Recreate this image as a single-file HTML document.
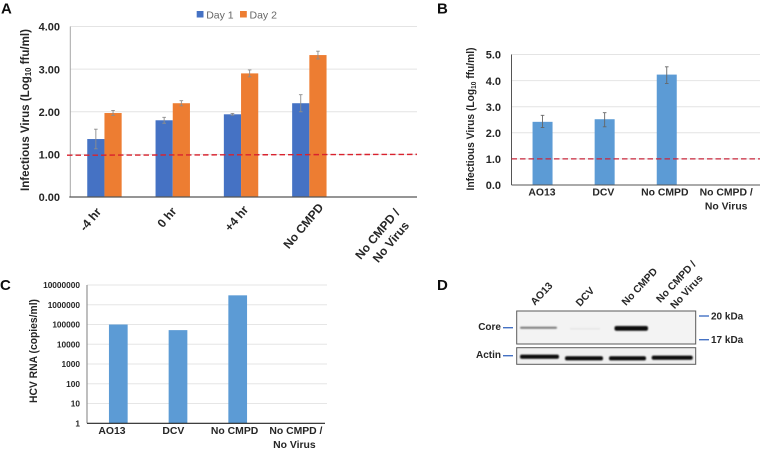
<!DOCTYPE html>
<html>
<head>
<meta charset="utf-8">
<style>
html,body{margin:0;padding:0;background:#fff;}
svg{display:block;}
text{font-family:"Liberation Sans",sans-serif;font-weight:bold;fill:#262626;}
</style>
</head>
<body>
<svg id="fig" xmlns="http://www.w3.org/2000/svg" width="760" height="449" viewBox="0 0 760 449">
  <defs>
    <filter id="b1" x="-20%" y="-200%" width="140%" height="500%"><feGaussianBlur stdDeviation="0.9"/></filter>
    <filter id="b2" x="-20%" y="-200%" width="140%" height="500%"><feGaussianBlur stdDeviation="0.75"/></filter>
    <filter id="soft" x="-5%" y="-5%" width="110%" height="110%"><feGaussianBlur stdDeviation="0.3"/></filter>
  </defs>
  <g id="panels" filter="url(#soft)">
    <text x="1" y="13.5" font-size="15" style="fill:#111">A</text>
    <text x="437" y="13.5" font-size="15" style="fill:#111">B</text>
    <text x="0" y="290" font-size="15" style="fill:#111">C</text>
    <text x="437" y="290" font-size="15" style="fill:#111">D</text>

    <g id="chart-a"></g>
    <g id="chart-b"></g>
    <g id="chart-c"></g>

    <g id="blot">
      <text transform="translate(544 296) rotate(-47)" text-anchor="middle" font-size="10.3">AO13</text>
      <text transform="translate(587.5 299) rotate(-47)" text-anchor="middle" font-size="10.3">DCV</text>
      <text transform="translate(642 289) rotate(-47)" text-anchor="middle" font-size="10.3">No CMPD</text>
      <text transform="translate(678.5 284) rotate(-47)" text-anchor="middle" font-size="10.3">No CMPD /</text>
      <text transform="translate(689 294) rotate(-47)" text-anchor="middle" font-size="10.3">No Virus</text>

      <rect x="516.7" y="311" width="179" height="33" fill="#f3f3f3" stroke="#5a5a5a" stroke-width="1"/>
      <rect x="520" y="326.8" width="37" height="2" rx="1" fill="#777" filter="url(#b1)"/>
      <rect x="570" y="328" width="30" height="1.5" rx="0.7" fill="#e4e4e4" filter="url(#b1)"/>
      <rect x="614.5" y="326" width="33.5" height="4.8" rx="2" fill="#0a0a0a" filter="url(#b2)"/>

      <rect x="516.7" y="347.7" width="179" height="16.6" fill="#f0f0f0" stroke="#5a5a5a" stroke-width="1"/>
      <rect x="520" y="354.6" width="39" height="4.2" rx="1.8" fill="#0c0c0c" filter="url(#b2)"/>
      <rect x="565" y="356.2" width="38" height="4.2" rx="1.8" fill="#0c0c0c" filter="url(#b2)"/>
      <rect x="609" y="356.2" width="37" height="4.2" rx="1.8" fill="#0c0c0c" filter="url(#b2)"/>
      <rect x="651.7" y="355.6" width="41" height="4.2" rx="1.8" fill="#0c0c0c" filter="url(#b2)"/>

      <text x="501" y="330" text-anchor="end" font-size="10">Core</text>
      <rect x="503" y="327" width="10" height="1.4" fill="#4472C4"/>
      <text x="501" y="358" text-anchor="end" font-size="10">Actin</text>
      <rect x="503" y="355" width="10" height="1.4" fill="#4472C4"/>
      <rect x="699" y="315.3" width="10" height="1.4" fill="#4472C4"/>
      <text x="711" y="319.5" font-size="10">20 kDa</text>
      <rect x="699" y="339" width="10" height="1.4" fill="#4472C4"/>
      <text x="711" y="343" font-size="10">17 kDa</text>
    </g>
  </g>
</svg>
<script>
/* Panel A data */
const aCategories = [["-4 hr"], ["0 hr"], ["+4 hr"], ["No CMPD"], ["No CMPD /", "No Virus"]];
const aDay1 = [1.36, 1.80, 1.94, 2.20];
const aDay2 = [1.97, 2.20, 2.90, 3.33];
const aDay1Err = [0.23, 0.07, 0.02, 0.20];
const aDay2Err = [0.06, 0.06, 0.08, 0.09];
const aTicks = ["0.00", "1.00", "2.00", "3.00", "4.00"];
const aLimit = [0.98, 1.0];
const aSeriesNames = ["Day 1", "Day 2"];

/* Panel B data */
const bCategories = [["AO13"], ["DCV"], ["No CMPD"], ["No CMPD /", "No Virus"]];
const bValues = [2.42, 2.52, 4.23];
const bErrUp = [0.25, 0.25, 0.30];
const bErrDown = [0.22, 0.29, 0.34];
const bTicks = ["0.0", "1.0", "2.0", "3.0", "4.0", "5.0"];
const bLimit = [1.0, 1.0];

/* Panel C data */
const cCategories = [["AO13"], ["DCV"], ["No CMPD"], ["No CMPD /", "No Virus"]];
const cValues = [100000, 52000, 3000000];
const cTicks = ["1", "10", "100", "1000", "10000", "100000", "1000000", "10000000"];

const NS = "http://www.w3.org/2000/svg";
function add(parent, tag, attrs, txt) {
  const el = document.createElementNS(NS, tag);
  for (const k in attrs) el.setAttribute(k, attrs[k]);
  if (txt !== undefined) el.textContent = txt;
  parent.appendChild(el);
  return el;
}
function slug(s) {
  return String(s).toLowerCase().replace(/[^a-z0-9.]+/g, "-").replace(/^-|-$/g, "");
}

/* ---------- Panel A ---------- */
(function () {
  const g = document.getElementById("chart-a");
  const x0 = 70.3, band = 68.3, barW = 17.2, right = 417;
  const y = v => 197 - v * (197 - 26.5) / 4;
  const cx = i => x0 + band * (i + 0.5);

  aTicks.forEach(t => {
    const v = parseFloat(t);
    if (v > 0) {
      const line = add(g, "line", { x1: x0, x2: right, y1: y(v), y2: y(v), stroke: "#e4e4e4", "stroke-width": 1 });
      
      
    }
    const lab = add(g, "text", { x: 60, y: y(v) + 4.2, "text-anchor": "end", "font-size": 11 }, t);
    
    
  });

  [[aDay1, aDay1Err, "#4472C4", -1, "day-1"], [aDay2, aDay2Err, "#ED7D31", 0, "day-2"]].forEach(s => {
    s[0].forEach((v, i) => {
      const bx = cx(i) + s[3] * barW;
      const bar = add(g, "rect", { x: bx, y: y(v), width: barW, height: y(0) - y(v), fill: s[2] });
      
      
      const mx = bx + barW / 2, e = s[1][i];
      const err = add(g, "path", {
        d: "M" + (mx - 1.8) + " " + y(v + e) + "H" + (mx + 1.8) + "M" + mx + " " + y(v + e) + "V" + y(v - e) + "M" + (mx - 1.8) + " " + y(v - e) + "H" + (mx + 1.8),
        stroke: "#8c8c8c", "stroke-width": 0.9, fill: "none"
      });
      
      
    });
  });

  const axY = add(g, "line", { x1: x0, x2: x0, y1: y(4), y2: y(0), stroke: "#a6a6a6", "stroke-width": 1 });
  
  
  const axX = add(g, "line", { x1: x0 - 1, x2: right, y1: y(0), y2: y(0), stroke: "#555", "stroke-width": 1.2 });
  
  

  const lim = add(g, "line", { x1: 67, x2: 417, y1: y(aLimit[0]), y2: y(aLimit[1]), stroke: "#d9232e", "stroke-width": 1.4, "stroke-dasharray": "5.5 3" });
  
  

  /* Rotated label layout, relative to each category centre: [dx, baseline y]. */
  const labelLayout = [[[-11, 222]], [[-2.75, 220]], [[-1.5, 221]], [[-2.85, 228.6]], [[2.85, 236.6], [16.35, 244.6]]];
  aCategories.forEach((c, i) => {
    c.forEach((line, j) => {
      const pos = labelLayout[i][j];
      const t = add(g, "text", { transform: "translate(" + (cx(i) + pos[0]) + " " + pos[1] + ") rotate(-50)", "text-anchor": "middle", "font-size": 12 }, line);
      
      
    });
  });

  const title = add(g, "text", { transform: "translate(29 191) rotate(-90)", "font-size": 12, textLength: 162, lengthAdjust: "spacingAndGlyphs" });
  
  
  add(title, "tspan", {}, "Infectious Virus  (Log");
  add(title, "tspan", { "font-size": 8, dy: 2 }, "10");
  add(title, "tspan", { dy: -2 }, "  ffu/ml)");

  const legendX = [196.7, 240];
  const legendColors = ["#4472C4", "#ED7D31"];
  aSeriesNames.forEach((n, i) => {
    const sw = add(g, "rect", { x: legendX[i], y: 11, width: 6.8, height: 6.5, fill: legendColors[i] });
    
    
    const t = add(g, "text", { x: legendX[i] + 9.5, y: 18.5, "font-size": 10.5, style: "font-weight:normal;fill:#666" }, n);
    
    
  });
})();

/* ---------- Panel B ---------- */
(function () {
  const g = document.getElementById("chart-b");
  const x0 = 511.5, band = 62.1, barW = 20, right = 760;
  const y = v => 185 - v * (185 - 54.5) / 5;
  const cx = i => x0 + band * (i + 0.5);
  const labelX = i => 542 + 61.4 * i;

  bTicks.forEach(t => {
    const v = parseFloat(t);
    if (v > 0) {
      const line = add(g, "line", { x1: x0, x2: right, y1: y(v), y2: y(v), stroke: "#e4e4e4", "stroke-width": 1 });
      
      
    }
    const lab = add(g, "text", { x: 501, y: y(v) + 4.2, "text-anchor": "end", "font-size": 11 }, t);
    
    
  });

  bValues.forEach((v, i) => {
    const bx = cx(i) - barW / 2;
    const bar = add(g, "rect", { x: bx, y: y(v), width: barW, height: y(0) - y(v), fill: "#5B9BD5" });
    
    
    const mx = cx(i), hi = y(v + bErrUp[i]), lo = y(v - bErrDown[i]);
    const err = add(g, "path", {
      d: "M" + (mx - 1.8) + " " + hi + "H" + (mx + 1.8) + "M" + mx + " " + hi + "V" + lo + "M" + (mx - 1.8) + " " + lo + "H" + (mx + 1.8),
      stroke: "#666", "stroke-width": 0.9, fill: "none"
    });
    
    
  });

  const axY = add(g, "line", { x1: x0, x2: x0, y1: y(5), y2: y(0), stroke: "#555", "stroke-width": 1 });
  
  
  const axX = add(g, "line", { x1: x0, x2: right, y1: y(0), y2: y(0), stroke: "#555", "stroke-width": 1 });
  
  

  const lim = add(g, "line", { x1: x0, x2: right, y1: y(bLimit[0]), y2: y(bLimit[1]), stroke: "#c9283a", "stroke-width": 1.3, "stroke-dasharray": "5.5 3" });
  
  

  bCategories.forEach((c, i) => {
    c.forEach((line, j) => {
      const t = add(g, "text", { x: labelX(i), y: 195.5 + j * 13.8, "text-anchor": "middle", "font-size": 10.4 }, line);
      
      
    });
  });

  const title = add(g, "text", { transform: "translate(474 190.5) rotate(-90)", "font-size": 11, textLength: 143, lengthAdjust: "spacingAndGlyphs" });
  
  
  add(title, "tspan", {}, "Infectious Virus (Log");
  add(title, "tspan", { "font-size": 7, dy: 2 }, "10");
  add(title, "tspan", { dy: -2 }, " ffu/ml)");
})();

/* ---------- Panel C ---------- */
(function () {
  const g = document.getElementById("chart-c");
  const x0 = 87, firstCenter = 118.3, band = 59.7, barW = 18.7, right = 327;
  const y = v => 423.3 - Math.log10(v) * (423.3 - 285) / 7;
  const cx = i => firstCenter + band * i;
  const labelX = i => 112 + 61.3 * i;

  cTicks.forEach(t => {
    const v = parseFloat(t);
    if (v > 1) {
      const line = add(g, "line", { x1: x0, x2: right, y1: y(v), y2: y(v), stroke: "#e6e6e6", "stroke-width": 1 });
      
      
    }
    const lab = add(g, "text", { x: 80, y: y(v) + 3, "text-anchor": "end", "font-size": 8.3 }, t);
    
    
  });

  cValues.forEach((v, i) => {
    const bar = add(g, "rect", { x: cx(i) - barW / 2, y: y(v), width: barW, height: y(1) - y(v), fill: "#5B9BD5" });
    
    
  });

  const axY = add(g, "line", { x1: x0, x2: x0, y1: y(10000000), y2: y(1), stroke: "#8a8a8a", "stroke-width": 1.1 });
  
  
  const axX = add(g, "line", { x1: x0, x2: 325, y1: y(1), y2: y(1), stroke: "#222", "stroke-width": 1.1 });
  
  

  cCategories.forEach((c, i) => {
    c.forEach((line, j) => {
      const t = add(g, "text", { x: labelX(i) - j * 1.5, y: 434 + j * 14, "text-anchor": "middle", "font-size": 10.4 }, line);
      
      
    });
  });

  const title = add(g, "text", { transform: "translate(37 403) rotate(-90)", "font-size": 11, textLength: 104, lengthAdjust: "spacingAndGlyphs" }, "HCV RNA (copies/ml)");
  
  
})();
</script>
</body>
</html>
